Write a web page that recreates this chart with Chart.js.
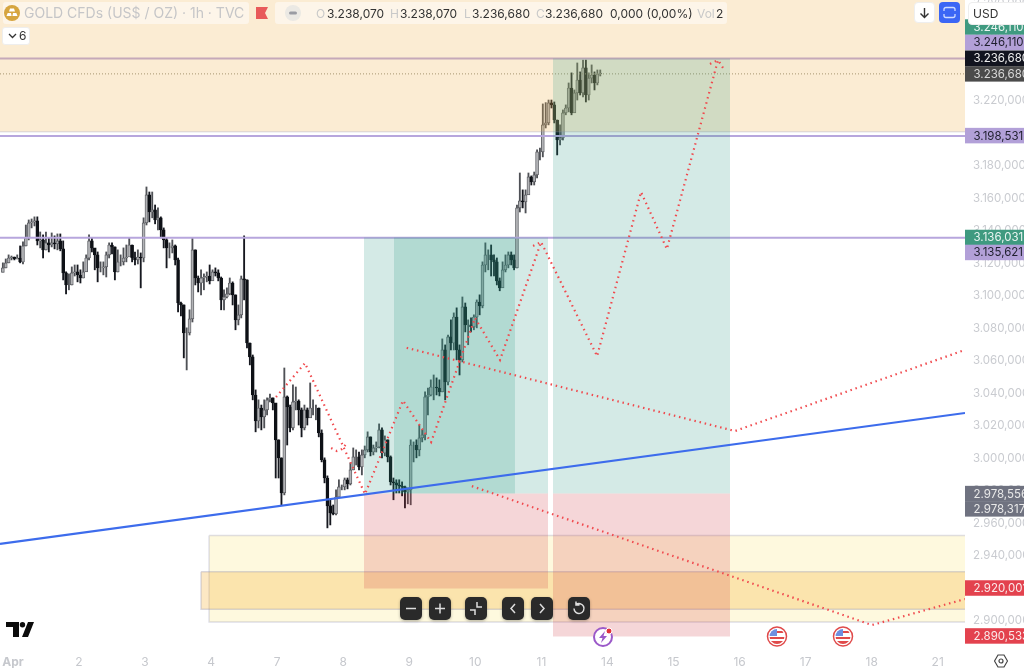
<!DOCTYPE html>
<html><head><meta charset="utf-8">
<script src="https://cdn.jsdelivr.net/npm/chart.js@4"></script>
<style>
html,body{margin:0;padding:0;background:#fff;overflow:hidden}
#wrap{position:relative;width:1024px;height:668px;overflow:hidden;font-family:Inter,Roboto,sans-serif;filter:blur(.35px)}
canvas{display:block;position:absolute;left:0;top:0}
.a{position:absolute;white-space:nowrap;line-height:1}
.patch{position:absolute;background:rgba(255,255,255,.5);border-radius:3px}
.t{font-size:12px;color:#333;top:7.5px}
.f{color:#c9c9c9}
.btn{position:absolute;width:22px;height:23px;background:#2a2a2a;border-radius:5px;top:597px;box-shadow:0 1px 3px rgba(0,0,0,.3)}
.btn svg,.ico svg{display:block}
</style></head>
<body>
<div id="wrap">
<canvas id="c" width="1024" height="668"></canvas>

<div class="patch" style="left:3px;top:2px;width:246px;height:22px"></div>
<svg class="a" style="left:4px;top:5px" width="16" height="16"><circle cx="8" cy="8" r="8" fill="#d6a53f"/><path d="M6 3.5h4l1 3H5zM2.5 11l1.2-3h3.3l.6 3zM8.400 11l.6-3h3.300l1.200 3z" fill="#fff"/></svg>
<div class="a" style="left:24px;top:6px;font-size:14px;color:#c6c6c8">GOLD CFDs (US$ / OZ) · 1h · TVC</div>
<svg class="a" style="left:256px;top:7px" width="13" height="12"><path d="M0 0h12l-3 6 3 6H0z" fill="#e85a5a"/></svg>
<div class="patch" style="left:275px;top:2px;width:452px;height:22px"></div>
<svg class="a" style="left:285px;top:5px" width="16" height="16"><circle cx="8" cy="8" r="8" fill="#ebe9e4"/><rect x="4" y="6.500" width="8" height="3" rx="1.500" fill="#9a9ca3"/></svg>
<div class="a t f" style="left:316px">O</div><div class="a t" style="left:327px">3.238,070</div>
<div class="a t f" style="left:390px">H</div><div class="a t" style="left:400px">3.238,070</div>
<div class="a t f" style="left:464px">L</div><div class="a t" style="left:472px">3.236,680</div>
<div class="a t f" style="left:536px">C</div><div class="a t" style="left:545px">3.236,680</div>
<div class="a t" style="left:610px">0,000 (0,00%)</div>
<div class="a t f" style="left:697px">Vol</div><div class="a t" style="left:716px">2</div>

<div class="a" style="left:2px;top:27px;width:28px;height:18px;background:#fff;border:1px solid #eee;border-radius:3px;box-sizing:border-box"></div>
<svg class="a" style="left:8px;top:33px" width="9" height="6"><path d="M1 1l3.500 3.500L8 1" stroke="#333" stroke-width="1.300" fill="none"/></svg>
<div class="a" style="left:19px;top:30px;font-size:12px;color:#333">6</div>

<div class="a" style="left:914px;top:2px;width:21px;height:21px;background:#fff;border:1px solid #eee;border-radius:4px;box-sizing:border-box"></div>
<svg class="a" style="left:919px;top:7px" width="11" height="12"><path d="M5.500 1v9M1.500 6.500l4 4 4-4" stroke="#333" stroke-width="1.400" fill="none"/></svg>
<div class="a" style="left:939px;top:2px;width:21px;height:21px;background:#3b66f5;border-radius:4px"></div>
<svg class="a" style="left:943px;top:6px" width="13" height="13"><path d="M1 5V3.500Q1 1.500 3 1.500h7q2 0 2 2V5M1 8v1.500q0 2 2 2h7q2 0 2-2V8" stroke="#cfdcff" stroke-width="1.300" fill="none"/></svg>
<div class="a" style="left:968px;top:2px;width:60px;height:23px;background:#fff;border:1px solid #eee;border-radius:4px;box-sizing:border-box"></div>
<div class="a" style="left:973px;top:8px;font-size:12px;color:#333">USD</div>

<div class="btn" style="left:400px"><svg width="22" height="23"><path d="M6 11.500h10" stroke="#ddd" stroke-width="1.500"/></svg></div>
<div class="btn" style="left:429px"><svg width="22" height="23"><path d="M6 11.500h10M11 6.500v10" stroke="#ddd" stroke-width="1.500"/></svg></div>
<div class="btn" style="left:465px"><svg width="22" height="23"><path d="M5 13h5v5M12 5v5h5" stroke="#ddd" stroke-width="1.500" fill="none"/></svg></div>
<div class="btn" style="left:502px"><svg width="22" height="23"><path d="M13 7l-4 4.500 4 4.500" stroke="#ddd" stroke-width="1.500" fill="none"/></svg></div>
<div class="btn" style="left:531px"><svg width="22" height="23"><path d="M9 7l4 4.500-4 4.500" stroke="#ddd" stroke-width="1.500" fill="none"/></svg></div>
<div class="btn" style="left:568px"><svg width="22" height="23"><path d="M8 7.500a5 5 0 1 1-2 4M8 4.500v3.500h3.500" stroke="#ddd" stroke-width="1.500" fill="none"/></svg></div>

<svg class="a" style="left:6px;top:622px" width="28" height="16"><path d="M0 0h13v15H7V5H0zM22 0h6l-6 15h-6z" fill="#0c0c0c"/><circle cx="16.500" cy="2.700" r="2.700" fill="#0c0c0c"/></svg>

<svg class="a" style="left:592px;top:626px" width="22" height="22"><circle cx="11" cy="11" r="9" fill="#fff" stroke="#9b59c9" stroke-width="2"/><path d="M13 5l-6 7h3.500L9 17l6-7h-3.500z" fill="#9b59c9"/><circle cx="17" cy="5" r="3" fill="#e0323c" stroke="#fff"/></svg>
<svg class="a" style="left:766px;top:626px" width="22" height="22"><defs><clipPath id="k1"><circle cx="11" cy="10.500" r="7.500"/></clipPath></defs><circle cx="11" cy="10.500" r="9.500" fill="#fff" stroke="#e04a4a" stroke-width="1.500"/><g clip-path="url(#k1)"><rect x="2" y="2" width="18" height="18" fill="#fff"/><rect x="2" y="2" width="9" height="8" fill="#6f8fe0"/><rect x="11" y="5" width="9" height="2" fill="#e04a4a"/><rect x="2" y="11" width="18" height="2" fill="#e04a4a"/><rect x="2" y="15" width="18" height="3" fill="#e04a4a"/></g></svg>
<svg class="a" style="left:832px;top:626px" width="22" height="22"><defs><clipPath id="k2"><circle cx="11" cy="10.500" r="7.500"/></clipPath></defs><circle cx="11" cy="10.500" r="9.500" fill="#fff" stroke="#e04a4a" stroke-width="1.500"/><g clip-path="url(#k2)"><rect x="2" y="2" width="18" height="18" fill="#fff"/><rect x="2" y="2" width="9" height="8" fill="#6f8fe0"/><rect x="11" y="5" width="9" height="2" fill="#e04a4a"/><rect x="2" y="11" width="18" height="2" fill="#e04a4a"/><rect x="2" y="15" width="18" height="3" fill="#e04a4a"/></g></svg>
<svg class="a" style="left:994px;top:654px" width="14" height="14"><path d="M4 1h6l3.500 6-3.500 6H4L.5 7z" fill="none" stroke="#444" stroke-width="1.200"/><circle cx="7" cy="7" r="2" fill="none" stroke="#444" stroke-width="1.200"/></svg>
</div>

<script>
const closes=[3117.3,3120.4,3123.4,3124,3122.8,3123.4,3120.9,3130.8,3135.8,3145,3145.6,3146.2,3133.9,3134.5,3128.4,3132.7,3131.4,3132.7,3132.1,3133.9,3129,3114.2,3106.8,3106.8,3114.2,3114.8,3112.9,3111.1,3114.8,3123.4,3133.9,3129.6,3125.3,3117.3,3117.3,3117.9,3125.3,3131.4,3130.2,3114.8,3121,3121,3123.4,3124,3131.4,3123.4,3122.2,3124,3123.4,3145,3162.2,3151.7,3153,3146.8,3148.1,3140.7,3134.5,3129.6,3129.6,3130.8,3122.2,3095.7,3094.5,3077.3,3077.3,3085.9,3128.4,3111.1,3108,3111.1,3111.7,3112.3,3109.3,3114.8,3114.2,3111.1,3097.6,3099.4,3101.3,3108,3100.7,3085.3,3088.4,3110.5,3109.9,3071.1,3062.5,3039.1,3023.1,3031.1,3025.6,3029.9,3036.1,3037.3,3034.2,3011.5,3000.4,2978.8,3037.9,3031.7,3018.8,3034.8,3035.4,3029.9,3018.8,3029.9,3025,3031.1,3031.1,3031.1,3015.7,2999.2,2988,2970.8,2966.5,2965.9,2976.3,2982.5,2982.5,2986.9,2984.4,2993,3001,3001,2994.8,3002.2,3005.3,3013.3,3004,3006.5,3007.1,3017.6,3003.4,3011.5,3001,2985.6,2985,2983.7,2983.1,2982.5,2979.4,2980.7,3008.3,3008.3,3005.3,3012.7,3014.5,3037.9,3039.1,3044,3044,3043.4,3041,3066.8,3047.1,3074.8,3071.1,3087.1,3066.8,3060.7,3093.3,3082.2,3082.2,3081,3087.1,3096.3,3093.9,3119.1,3125.3,3125.3,3122.2,3121,3109.3,3105,3116.1,3119.1,3125.3,3122.2,3117.3,3154.2,3158.5,3157.9,3162.2,3173.3,3170.2,3174.5,3188.7,3188.7,3205.3,3206.5,3218.8,3217.6,3208.3,3196,3197.3,3212.7,3215.7,3228,3212.7,3225,3232.9,3225,3240.4,3223.7,3234.1,3236,3231.1,3236.6,3237.2];
const highs=[3120.4,3122.8,3125.3,3124.6,3124,3125.3,3130.8,3133.3,3143.7,3146.8,3147.4,3148.7,3148.7,3139.4,3137.6,3139.4,3135.8,3138.8,3137,3138.2,3138.2,3133.9,3114.8,3113.6,3117.9,3119.1,3119.1,3116.1,3121,3125.3,3137.6,3135.8,3128.4,3127.1,3121,3121,3127.1,3132.7,3132.7,3130.2,3128.4,3125.3,3129.6,3131.4,3135.8,3131.4,3127.1,3128.4,3126.5,3148.1,3167.1,3164,3164,3156,3154.2,3148.7,3141.9,3135.8,3132.7,3134.5,3131.4,3123.4,3096.3,3094.5,3080.4,3091.5,3135.8,3128.4,3112.3,3116.1,3113.6,3114.8,3119.1,3116.1,3117.3,3116.1,3111.7,3103.8,3105,3111.1,3108.7,3100.7,3094.5,3112.3,3137,3109.9,3071.1,3063.7,3042.2,3036.1,3032.9,3036.1,3037.3,3039.7,3037.3,3021.3,3011.5,3000.4,3055.7,3038.5,3032.9,3045.3,3044,3036.1,3031.1,3032.9,3031.1,3046.5,3036.1,3032.9,3031.1,3017.6,3000.4,2989.3,2974.6,2971.4,2980.7,2986.9,2983.7,2988,2988,2997.3,3006.5,3005.3,3004,3005.3,3007.7,3016.4,3013.3,3008.3,3010.2,3021.3,3018.8,3013.9,3011.5,3001.6,2988,2986.9,2986.9,2985.6,2983.1,2981.9,3011.5,3010.2,3011.5,3020.6,3017.6,3041,3043.4,3048.4,3051.4,3049.6,3048.4,3073.6,3069.9,3076,3085.3,3089.6,3092.7,3069.9,3099.4,3095.7,3085.3,3086.5,3088.4,3097.6,3100.7,3121,3132.7,3128.4,3131.4,3125.3,3123.4,3111.1,3121,3125.3,3127.1,3127.1,3125.3,3156,3175.7,3165.3,3165.3,3175.7,3173.9,3176.3,3189.9,3191.1,3218.2,3219,3220.6,3220.6,3219.4,3208.3,3205.3,3214.5,3217.6,3231.1,3237.3,3226.8,3243.4,3237.9,3245.2,3245.2,3237.3,3242.2,3237.9,3239.1,3239.1];
const lows=[3114.8,3117.3,3120.4,3122.2,3122.2,3122.8,3120.4,3119.7,3130.8,3134.5,3141.9,3143.1,3131.4,3129.6,3123.4,3128.4,3127.1,3130.2,3129,3128.4,3127.8,3109.9,3101.3,3103.8,3106.8,3112.3,3108.7,3108,3111.1,3116.1,3122.2,3127.1,3116.1,3108.7,3114.8,3113,3111.7,3123.4,3125.9,3109.9,3114.8,3118.5,3119.1,3121,3127.1,3121,3119.1,3119.7,3105,3121,3143.7,3145.6,3148.1,3144.4,3140.7,3135.8,3129.6,3117.3,3123.4,3126.5,3119.1,3090.2,3087.7,3061.9,3054.5,3076,3084,3106.8,3102.5,3100.7,3103.8,3108.7,3107.4,3111.1,3112.3,3109.3,3091.5,3091.5,3098.8,3100.7,3094.5,3079.2,3082.2,3086.5,3097.6,3068,3057.6,3036.1,3016.4,3018.8,3017.6,3018.8,3026.8,3034.8,3029.9,2988,2988,2971.5,2977.6,3008.3,3016.4,3017.6,3029.9,3020.6,3013.3,3017.6,3020.6,3026.8,3026.8,3023.8,3013.3,2997.9,2985,2957.3,2959.1,2965.3,2965.3,2976.3,2980.7,2980.7,2981.3,2983.7,2993,2996,2993,2989.9,3000.4,3004,3001.6,3002.2,3004,3006.5,3000.4,3001.6,2997.9,2983.7,2974.6,2978.8,2978.8,2977,2969.6,2972.1,2971.5,2997.9,3000.4,3001.6,3010.2,3011.5,3026.8,3038.5,3036.1,3039.1,3038.5,3041,3036.1,3045.3,3066.8,3066.8,3060.7,3051.4,3059.4,3077.9,3070,3077.9,3079.2,3080.4,3088.4,3092.7,3114.8,3116.1,3112.3,3112.3,3106.8,3103.2,3106.8,3114.8,3117.3,3119.1,3116.1,3117.3,3151.7,3154.2,3151.1,3166.5,3168.3,3168.3,3172.7,3183.7,3185.6,3203.4,3205.3,3215.7,3206.5,3186.8,3192.9,3196,3211.5,3213.3,3211.5,3213.3,3220.6,3223.7,3222.5,3219.4,3220.6,3231.1,3226.8,3229.9,3235.4];
const firstOpen=3114.5;
const opens=[firstOpen].concat(closes.slice(0,-1));
const firstBarSlot=0.5;

const dayTickIndex=[4,27,50,73,96,119,142,165,188,211,234,257,280,303,326];
const dayLabels=['Apr','2','3','4','7','8','9','10','11','14','15','16','17','18','21'];
const priceTicks=[2900,2920,2940,2960,2980,3000,3020,3040,3060,3080,3100,3120,3140,3160,3180,3200,3220,3240,3260,3280];

const zoneLeft  =[-5,72.3,69.5,126.2,192.05,136.7,126.2,192.05];
const zoneRight =[340,340,340,190.3,253.7,178.8,190.3,253.7];
const zoneTop   =[3295,2952.6,2930.3,3136.03,3246.11,3136.03,2978.4,2978.4];
const zoneBottom=[3201,2899.4,2907.2,2978.4,2978.4,2978.4,2920,2890.53];
const zoneFill  =['rgba(239,179,79,.25)','rgba(250,225,90,.2)','rgba(245,180,60,.3)','rgba(38,150,130,.2)','rgba(38,150,130,.2)','rgba(38,150,130,.2)','rgba(205,50,60,.2)','rgba(205,50,60,.2)'];
const zoneEdge  =['rgba(150,150,180,.25)','rgba(150,150,180,.3)','rgba(150,150,180,.35)',null,null,null,null,null];

const levelPrices=[3246.11,3198.53,3135.8];
const lastPrice=3236.68;
const trendX=[-0.5,335.5];
const trendY=[2947.4,3028];
const pathX=[95.6,105.7,126.6,139.8,149.6,164.9,173.6,187.9,207.4,222.7,231.7,249.5,251.9];
const pathY=[3037.8,3058.7,2978.1,3035.6,3010.1,3086.5,3060.6,3133.2,3063,3164,3128.9,3245.2,3238.5];
const headAX=[246.7,249.5];
const headAY=[3242.8,3245.2];
const headBX=[185.1,187.9];
const headBY=[3130.8,3133.2];
const headCX=[114.8,116.8,118.6,120];
const headCY=[3006.4,3004.6,3005.8,3008.9];
const pathUpperX=[141.1,255.4,335.5];
const pathUpperY=[3068.1,3016.9,3066.8];
const pathLowerX=[163.8,303.1,335.5];
const pathLowerY=[2983,2897.5,2913.5];

const tagText=['3.246,110','3.246,110','3.236,680','3.236,680','3.198,531','3.136,031','3.135,621','2.978,556','2.978,317','2.920,001','2.890,533'];
const tagPrice=[3265.5,3256,3246.3,3236.7,3198.7,3136,3126.8,2978.4,2969,2920.3,2890.8];
const tagBack=['#3f9a80','#b2a0d8','#12141f','#4b4b4b','#b2a0d8','#3f9a80','#b2a0d8','#6f7280','#6f7280','#e3424e','#e3424e'];
const tagInk=['#e9f5f1','#1f1f2e','#eeeeee','#d8d8d8','#1f1f2e','#e9f5f1','#1f1f2e','#e8e8e8','#e8e8e8','#fbeaea','#fbeaea'];

const pts=(xs,ys)=>xs.map((x,i)=>({x,y:ys[i]}));
const isUp=i=>closes[i]>=opens[i];
const datasets=[];
datasets.push({type:'bar',label:'wick',data:closes.map((_,i)=>({x:firstBarSlot+i,y:[lows[i],highs[i]]})),
  barThickness:1.2,grouped:false,borderWidth:0,borderSkipped:false,
  backgroundColor:c=>isUp(c.dataIndex)?'#4f5156':'#16181f'});
datasets.push({type:'bar',label:'body',data:closes.map((_,i)=>({x:firstBarSlot+i,y:[opens[i],closes[i]]})),
  barThickness:3,grouped:false,borderWidth:.9,borderSkipped:false,
  backgroundColor:c=>isUp(c.dataIndex)?'#b2b3b6':'#0e1116',
  borderColor:c=>isUp(c.dataIndex)?'#5f6166':'#0e1116'});
const line=(data,extra)=>Object.assign({type:'line',data,pointRadius:0,tension:0,fill:false},extra);
levelPrices.forEach(p=>datasets.push(line(pts(trendX,[p,p]),{borderColor:'#b7a6dd',borderWidth:2})));
datasets.push(line(pts(trendX,[lastPrice,lastPrice]),{borderColor:'#8f8c7c',borderWidth:1,borderDash:[1,2]}));
zoneLeft.forEach((l,i)=>{
  datasets.push(line(pts([l,zoneRight[i]],[zoneTop[i],zoneTop[i]]),{borderWidth:0,borderColor:'transparent',backgroundColor:zoneFill[i],fill:{value:zoneBottom[i]}}));
  if(zoneEdge[i])datasets.push(line(pts([l,zoneRight[i],zoneRight[i],l,l],[zoneTop[i],zoneTop[i],zoneBottom[i],zoneBottom[i],zoneTop[i]]),{borderColor:zoneEdge[i],borderWidth:1.5}));
});
datasets.push(line(pts(trendX,trendY),{borderColor:'#3d6cec',borderWidth:2.2}));
const dotted={borderColor:'#f04a4e',borderWidth:2.2,borderDash:[1.5,3.8]};
[[pathX,pathY],[headAX,headAY],[headBX,headBY],[headCX,headCY],[pathUpperX,pathUpperY],[pathLowerX,pathLowerY]].forEach(([a,b])=>datasets.push(line(pts(a,b),dotted)));
datasets.forEach((d,i)=>{d.order=datasets.length-i;});

const tagsPlugin={id:'tags',afterDraw(chart){
  const ctx=chart.ctx,y=chart.scales.y;
  ctx.save();ctx.font='11.5px Inter';ctx.textBaseline='middle';ctx.textAlign='left';
  tagText.forEach((t,i)=>{
    const py=y.getPixelForValue(tagPrice[i]);
    ctx.fillStyle=tagBack[i];ctx.fillRect(965,py-7.75,59,15.5);
  });
  tagText.forEach((t,i)=>{
    const py=y.getPixelForValue(tagPrice[i]);
    ctx.fillStyle=tagInk[i];ctx.fillText(t,973.5,py+.5);
  });
  ctx.restore();
}};
const noPad=s=>{s.paddingLeft=0;s.paddingRight=0;s.paddingTop=0;s.paddingBottom=0;};

new Chart(document.getElementById('c'),{
  type:'bar',
  data:{datasets},
  plugins:[tagsPlugin],
  options:{
    responsive:false,animation:false,devicePixelRatio:1,
    layout:{padding:0},
    plugins:{legend:{display:false},tooltip:{enabled:false},title:{display:false}},
    scales:{
      x:{type:'linear',position:'bottom',min:-0.5,max:335.5,offset:false,
        grid:{display:false,drawTicks:false},border:{display:false},
        afterFit(s){s.height=18;noPad(s);},
        afterBuildTicks(s){s.ticks=dayTickIndex.map(value=>({value}));},
        ticks:{autoSkip:false,maxRotation:0,padding:5,color:'#c6c8cd',
          font:c=>({family:'Inter',size:12,weight:c.index===0?'bold':'normal'}),
          callback:v=>dayLabels[dayTickIndex.indexOf(v)]}},
      y:{type:'linear',position:'right',min:2882.15,max:3282.15,
        grid:{display:false,drawTicks:false},border:{display:false},
        afterFit(s){s.width=59;noPad(s);},
        afterBuildTicks(s){s.ticks=priceTicks.map(value=>({value}));},
        ticks:{autoSkip:false,padding:8,color:'#c9cbd0',
          font:{family:'Inter',size:11.5},
          callback:v=>{const s=v.toFixed(3).replace('.',',');return s[0]+'.'+s.slice(1);}}}
    }
  }
});
</script>
</body></html>
